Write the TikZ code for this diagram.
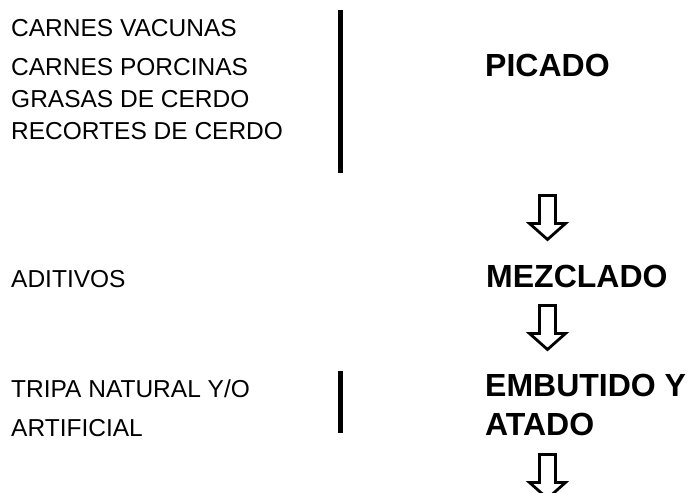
\documentclass[tikz,border=0pt]{standalone}
\usepackage{fontspec}
\setmainfont{Liberation Sans}
\begin{document}
\begin{tikzpicture}[x=1pt,y=-1pt,
  lefttext/.style={anchor=base west,inner sep=0pt,font=\fontsize{24.5}{29}\selectfont},
  steptext/.style={anchor=base west,inner sep=0pt,font=\fontsize{32}{38}\selectfont\bfseries},
  bar/.style={line width=5pt},
  blockarrow/.style={line width=2.8pt,line join=miter},
  outarrow/.pic={\draw[blockarrow] (-8,0) -- (8,0) -- (8,28) -- (18,28) -- (0,44) -- (-18,28) -- (-8,28) -- cycle;}]
\useasboundingbox[fill=white] (0,0) rectangle (694,493);
% left column
\node[lefttext] (vac) at (11,36) {CARNES VACUNAS};
\node[lefttext] (por) at (11,75) {CARNES PORCINAS};
\node[lefttext] (gra) at (11,107) {GRASAS DE CERDO};
\node[lefttext] (rec) at (11,139) {RECORTES DE CERDO};
\node[lefttext] (adi) at (11,287) {ADITIVOS};
\node[lefttext] (tri) at (11,397) {TRIPA NATURAL Y/O};
\node[lefttext] (art) at (11,436) {ARTIFICIAL};
% bars
\coordinate (b1t) at (340.5,10);
\coordinate (b1b) at (340.5,173);
\draw[bar] (b1t) -- (b1b);
\coordinate (b2t) at (340.5,371);
\coordinate (b2b) at (340.5,433);
\draw[bar] (b2t) -- (b2b);
% right column
\node[steptext] (pic) at (485,76) {PICADO};
\node[steptext] (mez) at (486,287) {MEZCLADO};
\node[steptext] (emb) at (485,396) {EMBUTIDO Y};
\node[steptext] (ata) at (485,435) {ATADO};
% arrows
\pic at (547.5,195.5) {outarrow};
\pic at (547.5,305.5) {outarrow};
\pic at (547.5,454.5) {outarrow};
\end{tikzpicture}
\end{document}
